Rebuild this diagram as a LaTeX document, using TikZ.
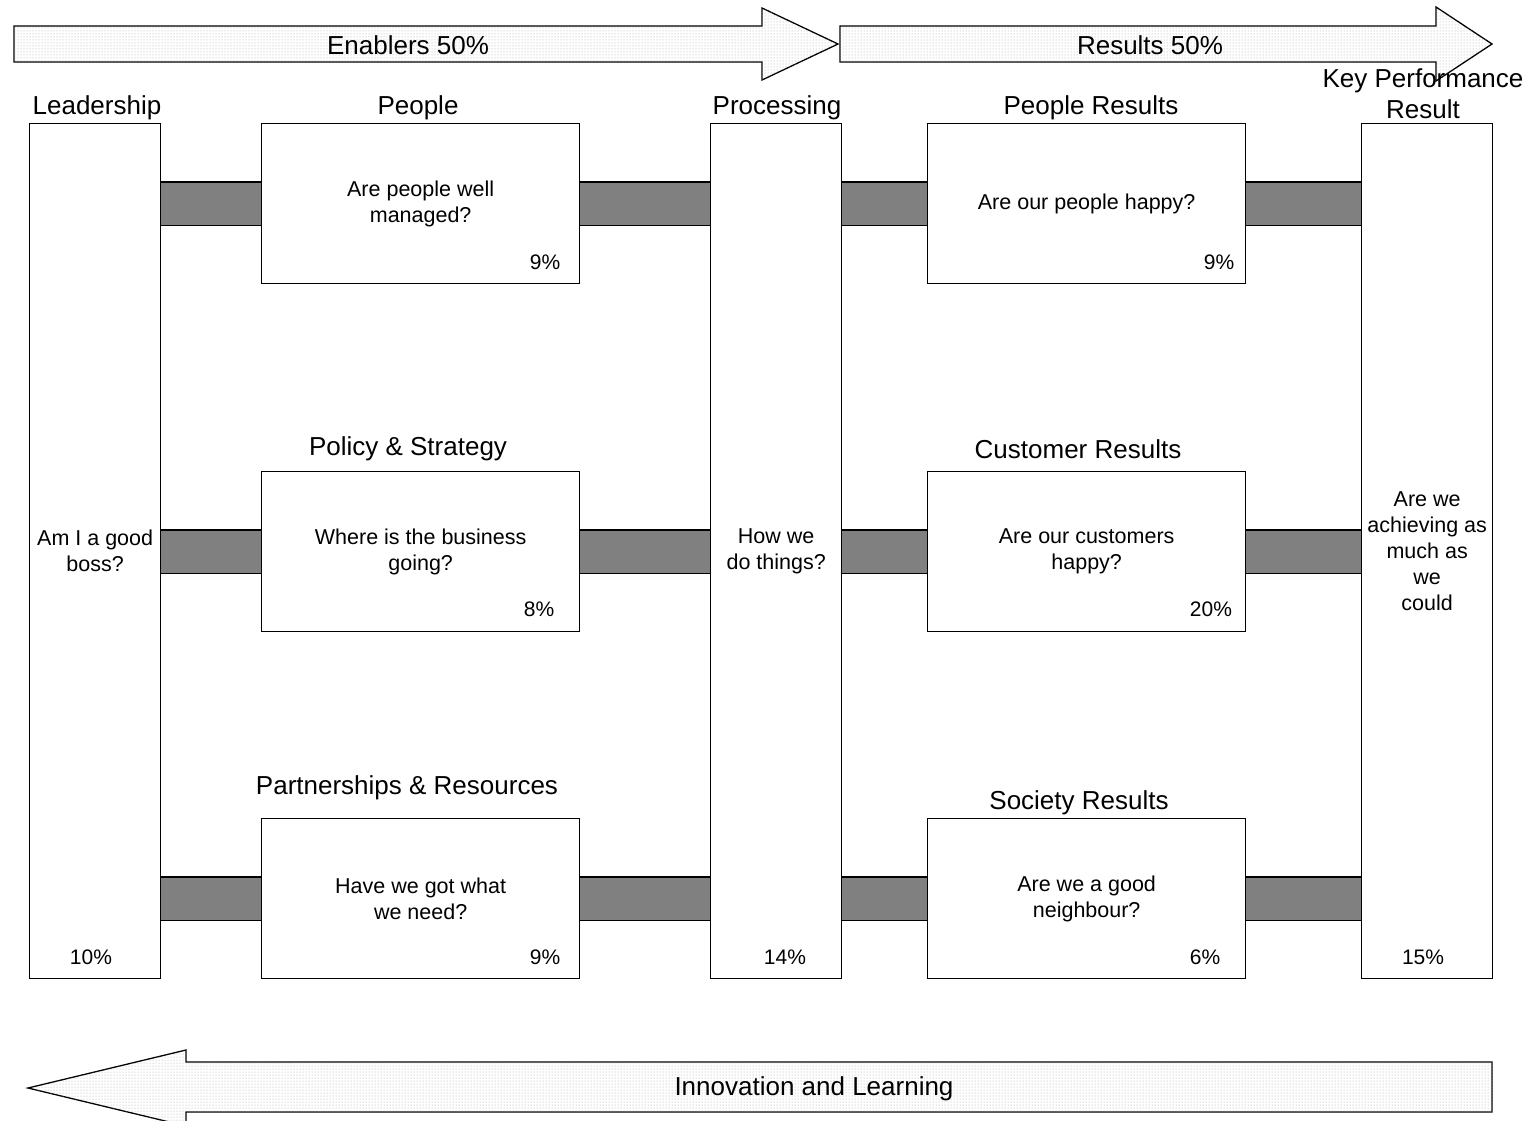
\documentclass[tikz,border=0pt]{standalone}
\usepackage{fontspec}
\setmainfont{Liberation Sans}
\usetikzlibrary{patterns,backgrounds}

\begin{document}
\begin{tikzpicture}[x=1pt,y=-1pt,
box/.style={draw,line width=1.3pt,fill=white,rectangle,inner sep=0pt,align=center,font=\fontsize{21.5}{26}\selectfont},
pillar/.style={box,minimum width=131pt,minimum height=855pt,anchor=north west},
qbox/.style={box,minimum width=318pt,minimum height=160pt,anchor=north west},
head/.style={font=\fontsize{26}{31}\selectfont,align=center},
pct/.style={font=\fontsize{21}{25}\selectfont},
bar/.style={line width=1.3pt,double=gray,double distance=42pt},
band/.style={draw,line width=1.3pt,fill=white,postaction={pattern=dots,pattern color=black!35}}]
\useasboundingbox(0,0)rectangle(1531,1120);
\draw[band](14,26)--(762,26)--(762,8)--(838,44)--(762,80)--(762,62)--(14,62)--cycle;
\draw[band](840,26)--(1436,26)--(1436,7)--(1492,44)--(1436,81)--(1436,62)--(840,62)--cycle;
\draw[band](1492,1062)--(186,1062)--(186,1050)--(28,1088)--(186,1126)--(186,1112)--(1492,1112)--cycle;
\node[head](enab) at (408,45){Enablers 50\%};
\node[head](resl) at (1150,45){Results 50\%};
\node[head](innov) at (814,1089){Innovation and Learning};
\node[pillar](lead) at (29,123){Am I a good\\boss?};
\node[qbox](ppl) at (261,123){Are people well\\managed?};
\node[qbox](pol) at (261,471){Where is the business\\going?};
\node[qbox](part) at (261,818){Have we got what\\we need?};
\node[pillar](proc) at (710,123){How we\\do things?};
\node[qbox](pplres) at (927,123){Are our people happy?};
\node[qbox](cust) at (927,471){Are our customers\\happy?};
\node[qbox](soc) at (927,818){Are we a good\\neighbour?};
\node[pillar](kpr) at (1361,123){Are we\\achieving as\\much as\\we\\could};
\node[head](leadt) at (97,108){Leadership};
\node[head](pplt) at (418,108){People};
\node[head](polt) at (408,449){Policy \& Strategy};
\node[head](partt) at (407,788){Partnerships \& Resources};
\node[head](proct) at (777,108){Processing};
\node[head](pplrest) at (1091,108){People Results};
\node[head](custt) at (1078,449){Customer Results};
\node[head](soct) at (1079,803){Society Results};
\node[head](kprt) at (1423,94){Key Performance\\Result};
\node[pct](leadp) at (91,957){10\%};
\node[pct](pplp) at (545,262){9\%};
\node[pct](polp) at (539,609){8\%};
\node[pct](partp) at (545,957){9\%};
\node[pct](procp) at (785,957){14\%};
\node[pct](pplresp) at (1219,262){9\%};
\node[pct](custp) at (1211,609){20\%};
\node[pct](socp) at (1205,957){6\%};
\node[pct](kprp) at (1423,957){15\%};
\begin{scope}[on background layer]
\foreach \row in {ppl,pol,part}{
\draw[bar](lead.east|-\row.west)--(\row.west);
\draw[bar](\row.east)--(proc.west|-\row.east);}
\foreach \row in {pplres,cust,soc}{
\draw[bar](proc.east|-\row.west)--(\row.west);
\draw[bar](\row.east)--(kpr.west|-\row.east);}
\end{scope}
\end{tikzpicture}
\end{document}
